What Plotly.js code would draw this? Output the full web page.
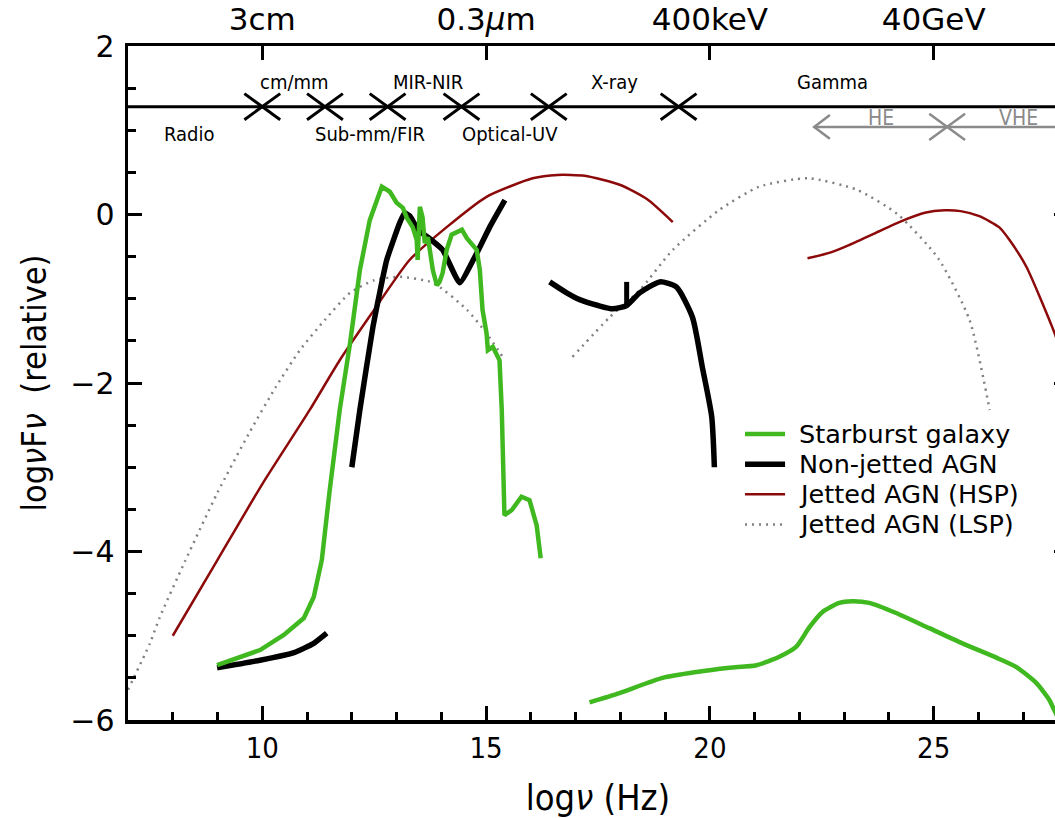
<!DOCTYPE html>
<html><head><meta charset="utf-8">
<script src="https://cdn.plot.ly/plotly-3.0.1.min.js"></script>
<style>html,body{margin:0;padding:0;overflow:hidden;background:#fff}</style>
</head><body><div id="chart"></div>
<script>
// ---------------- data (log nu [Hz], log nuFnu [relative]) ----------------
const lspSeg1X = [7.0, 7.49, 7.71, 8.27, 9.0, 9.7, 10.3, 10.84, 11.4, 11.96, 12.5, 13.07, 13.81, 14.57, 15.01, 15.37];
const lspSeg1Y = [-5.64, -5.09, -4.78, -4.12, -3.3, -2.6, -2.05, -1.61, -1.25, -0.93, -0.78, -0.74, -0.81, -1.13, -1.41, -1.69];
const lspSeg2X = [16.93, 17.76, 18.43, 19.17, 20.2, 21.1, 22.2, 23.3, 24.2, 25.1, 25.8, 26.25];
const lspSeg2Y = [-1.69, -1.22, -0.90, -0.42, 0.05, 0.33, 0.43, 0.29, 0.0, -0.52, -1.25, -2.32];

const hspSeg1X = [8.0, 9.0, 10.0, 11.06, 11.73, 12.45, 13.29, 14.12, 15.01, 16.04, 16.6, 17.2, 18.0, 18.6, 19.17];
const hspSeg1Y = [-5.0, -4.1, -3.2, -2.32, -1.73, -1.17, -0.54, -0.15, 0.21, 0.43, 0.47, 0.46, 0.35, 0.18, -0.09];
const hspSeg2X = [22.18, 22.7, 23.12, 23.7, 24.23, 24.8, 25.24, 25.6, 26.02, 26.46, 26.69, 27.07, 27.65, 28.0];
const hspSeg2Y = [-0.52, -0.45, -0.36, -0.22, -0.09, 0.02, 0.05, 0.04, -0.02, -0.15, -0.30, -0.62, -1.34, -1.85];

const nonJetSeg1X = [8.99, 9.95, 10.71, 11.15, 11.44];
const nonJetSeg1Y = [-5.38, -5.29, -5.20, -5.09, -4.97];
const nonJetSeg2X = [12.0, 12.18, 12.47, 12.78, 13.07, 13.18, 13.3, 13.41, 13.47, 13.7, 14.03, 14.41, 14.79, 15.08, 15.42];
const nonJetSeg2Y = [-3.0, -2.32, -1.34, -0.54, -0.10, 0.02, -0.02, -0.12, -0.18, -0.27, -0.42, -0.81, -0.46, -0.15, 0.17];
const nonJetSeg3X = [16.42, 16.8, 17.09, 17.5, 17.83, 18.14, 18.43, 18.88, 19.25, 19.61, 19.83, 20.04, 20.10];
const nonJetSeg3Y = [-0.80, -0.93, -1.01, -1.08, -1.12, -1.08, -0.93, -0.80, -0.86, -1.22, -1.81, -2.40, -3.0];
const nonJetLineX = [18.14, 18.14];   // narrow emission-line spike
const nonJetLineY = [-1.08, -0.80];

const starSeg1X = [8.99, 9.95, 10.48, 10.93, 11.15, 11.26, 11.33, 11.5, 11.73, 11.96, 12.18, 12.40, 12.67, 12.85, 13.0, 13.14, 13.23, 13.36, 13.45, 13.47, 13.52, 13.58, 13.63, 13.70, 13.81, 13.90, 13.96, 14.03, 14.12, 14.23, 14.46, 14.57, 14.79, 14.86, 14.92, 15.01, 15.04, 15.15, 15.30, 15.35, 15.41, 15.57, 15.79, 15.97, 16.13, 16.22];
const starSeg1Y = [-5.35, -5.17, -4.99, -4.79, -4.54, -4.26, -4.10, -3.3, -2.32, -1.53, -0.66, -0.07, 0.33, 0.27, 0.14, 0.08, -0.04, -0.15, -0.30, -0.54, 0.09, -0.03, -0.34, -0.27, -0.66, -0.84, -0.80, -0.69, -0.42, -0.24, -0.18, -0.28, -0.42, -0.66, -1.13, -1.41, -1.61, -1.57, -1.73, -2.32, -3.57, -3.51, -3.35, -3.39, -3.69, -4.08];
const starSeg2X = [17.31, 17.98, 18.94, 19.70, 20.44, 21.04, 21.55, 21.93, 22.22, 22.51, 22.89, 23.18, 23.56, 24.16, 24.90, 25.64, 26.40, 26.84, 27.29, 27.58, 27.69, 27.8];
const starSeg2Y = [-5.79, -5.68, -5.50, -5.43, -5.38, -5.35, -5.25, -5.13, -4.90, -4.72, -4.61, -4.59, -4.61, -4.73, -4.91, -5.09, -5.26, -5.37, -5.56, -5.76, -5.88, -6.0];

// band bar
const bandLineY = 1.28;
const bandEdgesX = [10.0, 11.4, 12.8, 14.45, 16.4, 19.3];
const bandLabels = ['Radio', 'cm/mm', 'Sub-mm/FIR', 'MIR-NIR', 'Optical-UV', 'X-ray', 'Gamma'];
const bandLabelX = [8.38, 10.73, 12.4, 13.7, 15.53, 17.87, 22.74];
const bandLabelY = [0.95, 1.57, 0.95, 1.57, 0.95, 1.57, 1.57];
// gamma sub-bands
const gammaLineY = 1.04;
const gammaStartX = 22.33;
const gammaEdgesX = [25.3];
const gammaLabels = ['HE', 'VHE'];
const gammaLabelX = [23.83, 26.9];
const gammaLabelY = 1.15;

// top axis
const topTickVals = [10, 15, 20, 25];
const topTickText = ['3cm', '0.3<i>μ</i>m', '400keV', '40GeV'];

// legend
const legendNames = ['Starburst galaxy', 'Non-jetted AGN', 'Jetted AGN (HSP)', 'Jetted AGN (LSP)'];

// ---------------- build ----------------
const GREEN = '#40b820', RED = '#8c0a0a', GRAYD = '#808080', GRAYA = '#8a8a8a';
const COND = 'DejaVu Sans Condensed, DejaVu Sans';
function crossXY(cx, cy, dx, dy) {
  const xs = [], ys = [];
  cx.forEach(c => { xs.push(c - dx, c + dx, null, c - dx, c + dx, null); ys.push(cy + dy, cy - dy, null, cy - dy, cy + dy, null); });
  return [xs, ys];
}
const [bcx, bcy] = crossXY(bandEdgesX, bandLineY, 0.4, 0.155);
const [gcx, gcy] = crossXY(gammaEdgesX, gammaLineY, 0.4, 0.155);

const traces = [];
const sp = {shape: 'spline', smoothing: 0.6};
const lspStyle = {color: GRAYD, width: 2.5, dash: '2px,5px'};
traces.push({x: lspSeg1X, y: lspSeg1Y, mode: 'lines', line: Object.assign({}, sp, lspStyle)});
traces.push({x: lspSeg2X, y: lspSeg2Y, mode: 'lines', line: Object.assign({}, sp, lspStyle)});
traces.push({x: hspSeg1X, y: hspSeg1Y, mode: 'lines', line: Object.assign({color: RED, width: 2.5}, sp)});
traces.push({x: hspSeg2X, y: hspSeg2Y, mode: 'lines', line: Object.assign({color: RED, width: 2.5}, sp)});
traces.push({x: nonJetSeg1X, y: nonJetSeg1Y, mode: 'lines', line: {color: '#000', width: 5.5, shape: 'spline', smoothing: 0.5}});
traces.push({x: nonJetSeg2X, y: nonJetSeg2Y, mode: 'lines', line: {color: '#000', width: 5.5, shape: 'spline', smoothing: 0.4}});
traces.push({x: nonJetSeg3X, y: nonJetSeg3Y, mode: 'lines', line: {color: '#000', width: 5.5, shape: 'spline', smoothing: 0.6}});
traces.push({x: nonJetLineX, y: nonJetLineY, mode: 'lines', line: {color: '#000', width: 5}});
traces.push({x: starSeg1X, y: starSeg1Y, mode: 'lines', line: {color: GREEN, width: 4.5}});
traces.push({x: starSeg2X, y: starSeg2Y, mode: 'lines', line: Object.assign({color: GREEN, width: 4.5}, sp)});
// band crosses (on top axis so that axis is drawn)
traces.push({x: bcx, y: bcy, xaxis: 'x2', mode: 'lines', line: {color: '#000', width: 3}});
// gamma sub-band arrow line, arrowhead and cross
traces.push({x: [gammaStartX, 28.2], y: [gammaLineY, gammaLineY], mode: 'lines', line: {color: GRAYA, width: 2.5}});
traces.push({x: [gammaStartX + 0.35, gammaStartX, gammaStartX + 0.35], y: [gammaLineY + 0.14, gammaLineY, gammaLineY - 0.14], mode: 'lines', line: {color: GRAYA, width: 2.5}});
traces.push({x: gcx, y: gcy, mode: 'lines', line: {color: GRAYA, width: 2.5}});
traces.forEach(t => { t.showlegend = false; t.hoverinfo = 'skip'; });

const annotations = [];
bandLabels.forEach((t, i) => annotations.push({x: bandLabelX[i], y: bandLabelY[i], text: t, showarrow: false, xref: 'x', yref: 'y', font: {family: COND, size: 20, color: '#000'}}));
gammaLabels.forEach((t, i) => annotations.push({x: gammaLabelX[i], y: gammaLabelY, text: t, showarrow: false, xref: 'x', yref: 'y', font: {family: COND, size: 21, color: GRAYA}}));

// manual legend (tight line spacing like the original)
const legColors = [GREEN, '#000', RED, GRAYD];
const legWidths = [4.5, 5.5, 2.5, 2.5];
const legDash = ['solid', 'solid', 'solid', '2px,5px'];
const legTop = 0.4243, legStep = 0.0447;
const shapes = [{type: 'line', xref: 'paper', yref: 'y', x0: 0, x1: 1, y0: bandLineY, y1: bandLineY, line: {color: '#000', width: 3}}];
legendNames.forEach((n, i) => {
  const yy = legTop - i * legStep;
  shapes.push({type: 'line', xref: 'paper', yref: 'paper', x0: 0.6564, x1: 0.699, y0: yy, y1: yy, line: {color: legColors[i], width: legWidths[i], dash: legDash[i]}});
  annotations.push({xref: 'paper', yref: 'paper', x: 0.7117, y: yy, xanchor: 'left', yanchor: 'middle', text: n, showarrow: false, font: {family: 'DejaVu Sans', size: 25.5, color: '#000'}});
});

const axisCommon = {showgrid: false, zeroline: false, showline: true, linecolor: '#000', linewidth: 3.5, ticks: 'inside', tickcolor: '#000', tickwidth: 3, ticklen: 14};
const layout = {
  width: 1070, height: 818,
  margin: {l: 128, r: 2, t: 46, b: 98},
  paper_bgcolor: '#fff', plot_bgcolor: '#fff',
  font: {family: 'DejaVu Sans', color: '#000'},
  showlegend: false,
  xaxis: Object.assign({}, axisCommon, {range: [7, 28], tick0: 0, dtick: 5, mirror: false,
    minor: {dtick: 1, ticklen: 8, tickwidth: 3, ticks: 'inside', tickcolor: '#000'},
    tickfont: {size: 29, family: COND},
    title: {text: 'log<i>ν</i> (Hz)', font: {size: 36, family: COND}, standoff: 21}}),
  xaxis2: Object.assign({}, axisCommon, {range: [7, 28], overlaying: 'x', side: 'top', anchor: 'y', tickvals: topTickVals, ticktext: topTickText,
    tickfont: {size: 31, family: 'DejaVu Sans'}}),
  yaxis: Object.assign({}, axisCommon, {range: [-6, 2], tick0: 0, dtick: 2, mirror: 'ticks',
    minor: {dtick: 0.5, ticklen: 8, tickwidth: 3, ticks: 'inside', tickcolor: '#000'},
    tickfont: {size: 30}, ticklabelstandoff: 4,
    title: {text: 'log<i>ν</i>F<i>ν</i>  (relative)', font: {size: 34, family: COND}, standoff: 14}}),
  shapes: shapes,
  annotations: annotations
};
Plotly.newPlot('chart', traces, layout, {displayModeBar: false, staticPlot: true});
</script>
</body></html>
